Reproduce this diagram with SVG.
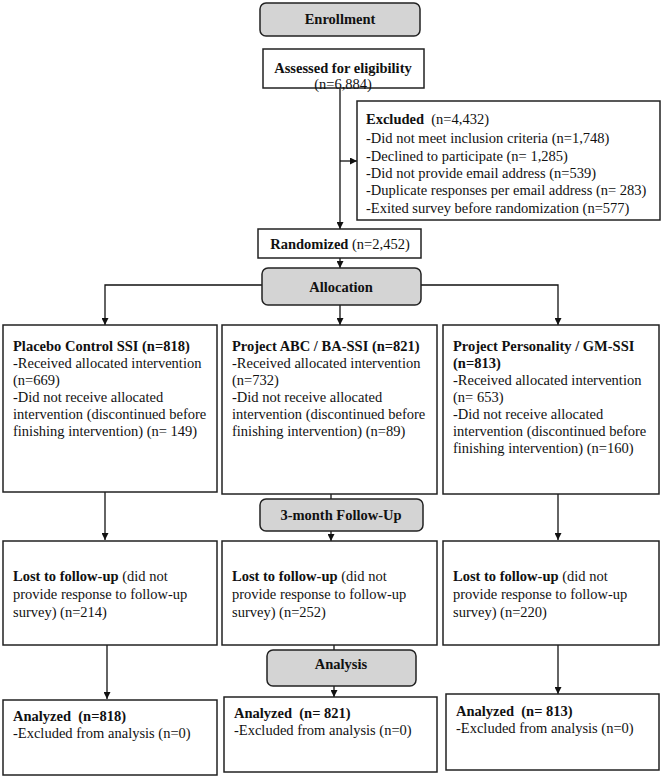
<svg xmlns="http://www.w3.org/2000/svg" width="663" height="777" viewBox="0 0 663 777">
<defs>
<marker id="ah" viewBox="0 0 10 10" refX="10" refY="5" markerWidth="7" markerHeight="7" markerUnits="userSpaceOnUse" orient="auto">
<path d="M0,0 L10,5 L0,10 z" fill="#111"/>
</marker>
<style>
.box{fill:#fff;stroke:#222;stroke-width:1.5}
.stage{fill:#d4d4d4;stroke:#222;stroke-width:1.5}
.t{font-family:"Liberation Serif","Times New Roman",serif;font-size:14.5px;fill:#111}
.b{font-weight:bold}
.c{text-anchor:middle}
.ln{fill:none;stroke:#111;stroke-width:1.3}
</style>
</defs>
<rect width="663" height="777" fill="#fff"/>

<g id="connectors">
<path class="ln" d="M340,89 V229" marker-end="url(#ah)"/>
<path class="ln" d="M340,161 H357" marker-end="url(#ah)"/>
<path class="ln" d="M340,258 V268" marker-end="url(#ah)"/>
<path class="ln" d="M262,285 H105 V325" marker-end="url(#ah)"/>
<path class="ln" d="M421,285 H558 V325" marker-end="url(#ah)"/>
<path class="ln" d="M340,305 V325" marker-end="url(#ah)"/>
<path class="ln" d="M105,492 V540" marker-end="url(#ah)"/>
<path class="ln" d="M331,494 V499"/>
<path class="ln" d="M331,531 V541" marker-end="url(#ah)"/>
<path class="ln" d="M558,494 V540" marker-end="url(#ah)"/>
<path class="ln" d="M107,645 V699" marker-end="url(#ah)"/>
<path class="ln" d="M334,645 V650"/>
<path class="ln" d="M334,686 V697" marker-end="url(#ah)"/>
<path class="ln" d="M558,645 V694" marker-end="url(#ah)"/>
</g>

<g id="enrollment">
<rect class="stage" x="260" y="3" width="160" height="33" rx="6"/>
<text class="t b c" x="340" y="24">Enrollment</text>
</g>

<g id="assessed">
<rect class="box" x="263" y="49" width="161" height="39"/>
<text class="t b c" x="343" y="73">Assessed for eligibility</text>
<text class="t c" x="343" y="89">(n=6,884)</text>
</g>

<g id="excluded">
<rect class="box" x="357" y="101" width="303" height="119"/>
<text class="t" x="366" y="124" xml:space="preserve"><tspan class="b">Excluded</tspan>  (n=4,432)</text>
<text class="t" x="366" y="143">-Did not meet inclusion criteria (n=1,748)</text>
<text class="t" x="366" y="161">-Declined to participate (n= 1,285)</text>
<text class="t" x="366" y="178">-Did not provide email address (n=539)</text>
<text class="t" x="366" y="195">-Duplicate responses per email address (n= 283)</text>
<text class="t" x="366" y="213">-Exited survey before randomization (n=577)</text>
</g>

<g id="randomized">
<rect class="box" x="258" y="229" width="163" height="29"/>
<text class="t c" x="340" y="249"><tspan class="b">Randomized</tspan> (n=2,452)</text>
</g>

<g id="allocation">
<rect class="stage" x="262" y="268" width="159" height="37" rx="6"/>
<text class="t b c" x="341" y="292">Allocation</text>
</g>

<g id="placebo">
<rect class="box" x="3" y="325" width="214" height="167"/>
<text class="t b" x="13" y="351">Placebo Control SSI (n=818)</text>
<text class="t" x="13" y="368">-Received allocated intervention</text>
<text class="t" x="13" y="385">(n=669)</text>
<text class="t" x="13" y="402">-Did not receive allocated</text>
<text class="t" x="13" y="419">intervention (discontinued before</text>
<text class="t" x="13" y="436">finishing intervention) (n= 149)</text>
</g>

<g id="abc">
<rect class="box" x="222" y="325" width="215" height="169"/>
<text class="t b" x="232" y="351">Project ABC / BA-SSI (n=821)</text>
<text class="t" x="232" y="368">-Received allocated intervention</text>
<text class="t" x="232" y="385">(n=732)</text>
<text class="t" x="232" y="402">-Did not receive allocated</text>
<text class="t" x="232" y="419">intervention (discontinued before</text>
<text class="t" x="232" y="436">finishing intervention) (n=89)</text>
</g>

<g id="personality">
<rect class="box" x="443" y="325" width="216" height="169"/>
<text class="t b" x="453" y="351">Project Personality / GM-SSI</text>
<text class="t b" x="453" y="368">(n=813)</text>
<text class="t" x="453" y="385">-Received allocated intervention</text>
<text class="t" x="453" y="402">(n= 653)</text>
<text class="t" x="453" y="419">-Did not receive allocated</text>
<text class="t" x="453" y="436">intervention (discontinued before</text>
<text class="t" x="453" y="453">finishing intervention) (n=160)</text>
</g>

<g id="followup">
<rect class="stage" x="260" y="499" width="163" height="32" rx="6"/>
<text class="t b c" x="341" y="520">3-month Follow-Up</text>
</g>

<g id="lost1">
<rect class="box" x="3" y="541" width="214" height="104"/>
<text class="t" x="13" y="581"><tspan class="b">Lost to follow-up</tspan> (did not</text>
<text class="t" x="13" y="599">provide response to follow-up</text>
<text class="t" x="13" y="617">survey) (n=214)</text>
</g>

<g id="lost2">
<rect class="box" x="222" y="541" width="215" height="104"/>
<text class="t" x="232" y="581"><tspan class="b">Lost to follow-up</tspan> (did not</text>
<text class="t" x="232" y="599">provide response to follow-up</text>
<text class="t" x="232" y="617">survey) (n=252)</text>
</g>

<g id="lost3">
<rect class="box" x="443" y="541" width="216" height="104"/>
<text class="t" x="453" y="581"><tspan class="b">Lost to follow-up</tspan> (did not</text>
<text class="t" x="453" y="599">provide response to follow-up</text>
<text class="t" x="453" y="617">survey) (n=220)</text>
</g>

<g id="analysis">
<rect class="stage" x="267" y="650" width="149" height="36" rx="6"/>
<text class="t b c" x="341" y="669">Analysis</text>
</g>

<g id="analyzed1">
<rect class="box" x="3" y="700" width="214" height="75"/>
<text class="t b" x="13" y="721" xml:space="preserve">Analyzed  (n=818)</text>
<text class="t" x="13" y="738">-Excluded from analysis (n=0)</text>
</g>

<g id="analyzed2">
<rect class="box" x="224" y="697" width="213" height="75"/>
<text class="t b" x="234" y="718" xml:space="preserve">Analyzed  (n= 821)</text>
<text class="t" x="234" y="735">-Excluded from analysis (n=0)</text>
</g>

<g id="analyzed3">
<rect class="box" x="446" y="694" width="213" height="76"/>
<text class="t b" x="456" y="716" xml:space="preserve">Analyzed  (n= 813)</text>
<text class="t" x="456" y="733">-Excluded from analysis (n=0)</text>
</g>
</svg>
